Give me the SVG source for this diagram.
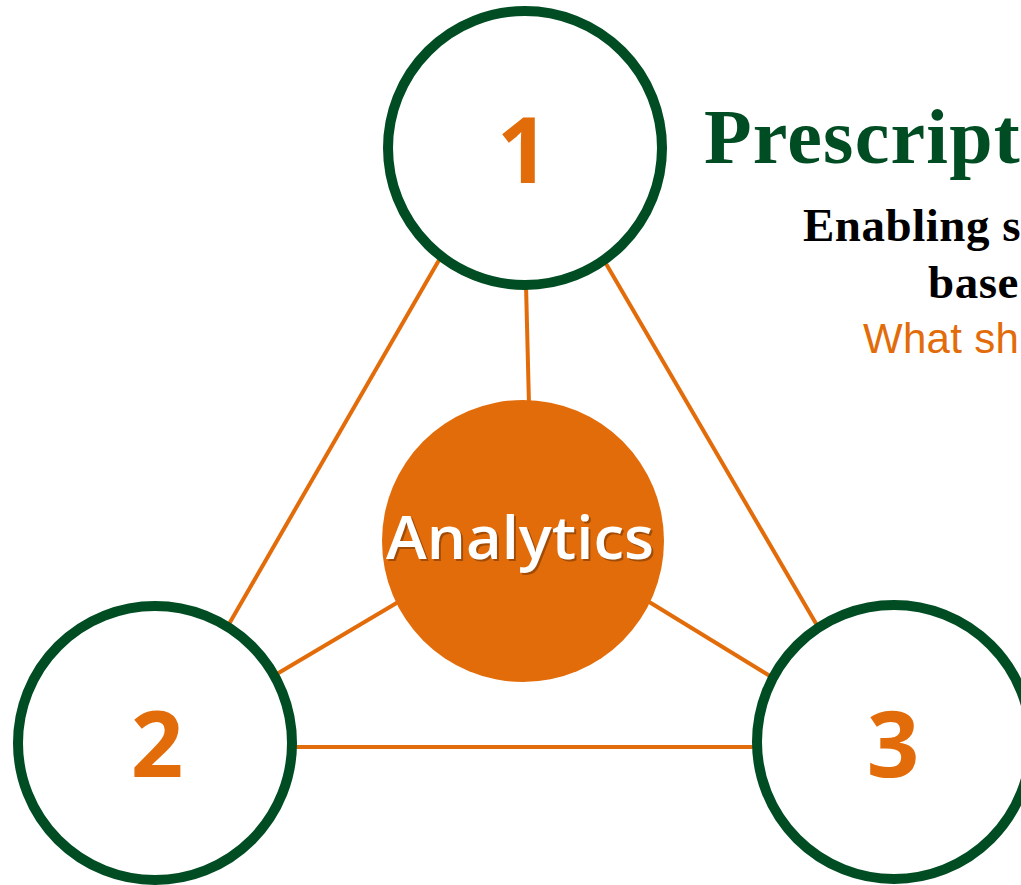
<svg xmlns="http://www.w3.org/2000/svg" width="1021" height="885" viewBox="0 0 1021 885">
<style>
.ring{fill:#ffffff;stroke:#004D23;stroke-width:10}
.num{font-family:"Open Sans","Liberation Sans",sans-serif;font-weight:700;font-size:92px;fill:#E36C0A;text-anchor:middle}
.link{stroke:#E36C0A;stroke-width:4;fill:none}
.serif{font-family:"Liberation Serif",serif;font-weight:700}
</style>
<rect width="1021" height="885" fill="#ffffff"/>
<g id="connectors">
<line class="link" x1="521" y1="118" x2="158" y2="747"/>
<line class="link" x1="521" y1="118" x2="888" y2="747"/>
<line class="link" x1="158" y1="747" x2="888" y2="747"/>
<line class="link" x1="526" y1="285" x2="529" y2="405"/>
<line class="link" x1="400" y1="601" x2="270" y2="678"/>
<line class="link" x1="646" y1="600" x2="778" y2="681"/>
</g>
<g id="node-analytics">
<circle cx="523" cy="541" r="141" fill="#E36C0A"/>
<text x="388" y="561" font-family="'Open Sans','Liberation Sans',sans-serif" font-weight="600" font-size="60" fill="#6b3304" fill-opacity="0.55" textLength="268" lengthAdjust="spacingAndGlyphs">Analytics</text>
<text x="386" y="559" font-family="'Open Sans','Liberation Sans',sans-serif" font-weight="600" font-size="60" fill="#ffffff" textLength="268" lengthAdjust="spacingAndGlyphs">Analytics</text>
</g>
<g id="node-1">
<circle class="ring" cx="525" cy="148" r="137"/>
<text class="num" x="523" y="183">1</text>
</g>
<g id="node-2">
<circle class="ring" cx="155" cy="743" r="137"/>
<text class="num" x="157" y="777">2</text>
</g>
<g id="node-3">
<circle class="ring" cx="894" cy="742" r="137"/>
<text class="num" x="893" y="777">3</text>
</g>
<g id="label-1">
<text class="serif" x="704" y="163" font-size="78" letter-spacing="1.2" fill="#004D23">Prescript</text>
<text class="serif" x="803" y="241" font-size="47" letter-spacing="0.5" fill="#000000">Enabling s</text>
<text class="serif" x="928" y="298" font-size="47" letter-spacing="0.5" fill="#000000">base</text>
<text x="863" y="353" font-family="'Liberation Sans',sans-serif" font-size="42" letter-spacing="0.3" fill="#E36C0A">What sh</text>
</g>
</svg>
